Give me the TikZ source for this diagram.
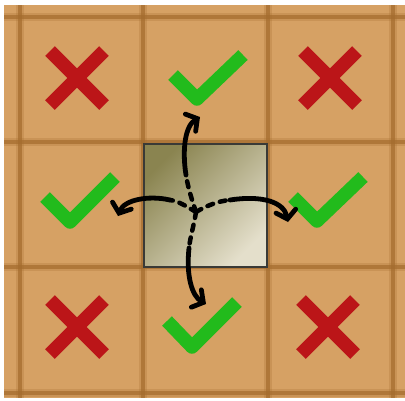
\documentclass[tikz,border=0pt]{standalone}
\usetikzlibrary{arrows.meta}
\definecolor{tan}{HTML}{D6A164}
\definecolor{gridbrown}{HTML}{A46C2E}
\definecolor{xred}{HTML}{BB1518}
\definecolor{okgreen}{HTML}{22BB1C}
\definecolor{boxdark}{HTML}{8A8450}
\definecolor{boxlight}{HTML}{E4DFCB}
\definecolor{boxedge}{HTML}{3A3A36}
\tikzset{
  gridline/.style={draw=gridbrown, line width=4pt, opacity=0.7},
  gridsoft/.style={draw=gridbrown, line width=8pt, opacity=0.25},
  crossmark/.style={draw=xred, line width=13.5pt, line cap=butt},
  checkmark/.style={draw=okgreen, line width=13.5pt, line cap=butt, line join=round},
  movesolid/.style={draw=black, line width=4.8pt, line cap=round,
    -{Straight Barb[length=8pt,width=20pt,line cap=round]}},
  movedash/.style={draw=black, line width=4.5pt, line cap=round, dash pattern=on 6pt off 7pt},
}
\begin{document}
\begin{tikzpicture}[x=1pt,y=-1pt]
\useasboundingbox (0,0) rectangle (405,400);
\fill[white] (0,0) rectangle (405,400);
\fill[tan] (4,5) rectangle (405,398);
% grid
\foreach \g in {20,143,268,393}{
  \draw[gridsoft] (\g,5) -- (\g,398);
  \draw[gridline] (\g,5) -- (\g,398);
}
\foreach \g in {17,142,267,393}{
  \draw[gridsoft] (4,\g) -- (405,\g);
  \draw[gridline] (4,\g) -- (405,\g);
}
% crosses
\foreach \cx/\cy in {77/78, 330/78, 77/327, 328/327}{
  \draw[crossmark] (\cx-27,\cy-27) -- (\cx+27,\cy+27);
  \draw[crossmark] (\cx+27,\cy-27) -- (\cx-27,\cy+27);
}
% checks
\draw[checkmark] (173,75) -- (197,99) -- (243,55);
\draw[checkmark] (45,197) -- (70,222) -- (115,177);
\draw[checkmark] (293,197) -- (317,221) -- (363,177);
\draw[checkmark] (167,321) -- (192,347) -- (237,302);
% piece
\node[draw=boxedge, line width=2pt, minimum size=123pt, inner sep=0pt,
      shading=axis, top color=boxdark, bottom color=boxlight, shading angle=45]
      (box) at (205,205) {};
% arrow points
\coordinate (c) at (196,212);
\coordinate (tp) at (186,175);
\coordinate (lp) at (170,200);
\coordinate (rp) at (230,200);
\coordinate (bp) at (189,248);
\coordinate (tt) at (200,117);
\coordinate (lt) at (118,216);
\coordinate (rt) at (288,222);
\coordinate (bt) at (206,304);
% dashed parts
\draw[movedash] (c) .. controls (192,200) and (188,188) .. (tp);
\draw[movedash] (c) .. controls (186,206) and (178,201) .. (lp);
\draw[movedash] (c) .. controls (206,206) and (218,201) .. (rp);
\draw[movedash] (c) .. controls (194,225) and (190,238) .. (bp);
% solid parts
\draw[movesolid] (tp) .. controls (182,150) and (185,126) .. (tt);
\draw[movesolid] (lp) .. controls (148,195) and (124,200) .. (lt);
\draw[movesolid] (rp) .. controls (262,195) and (284,202) .. (rt);
\draw[movesolid] (bp) .. controls (186,276) and (192,296) .. (bt);
\end{tikzpicture}
\end{document}
